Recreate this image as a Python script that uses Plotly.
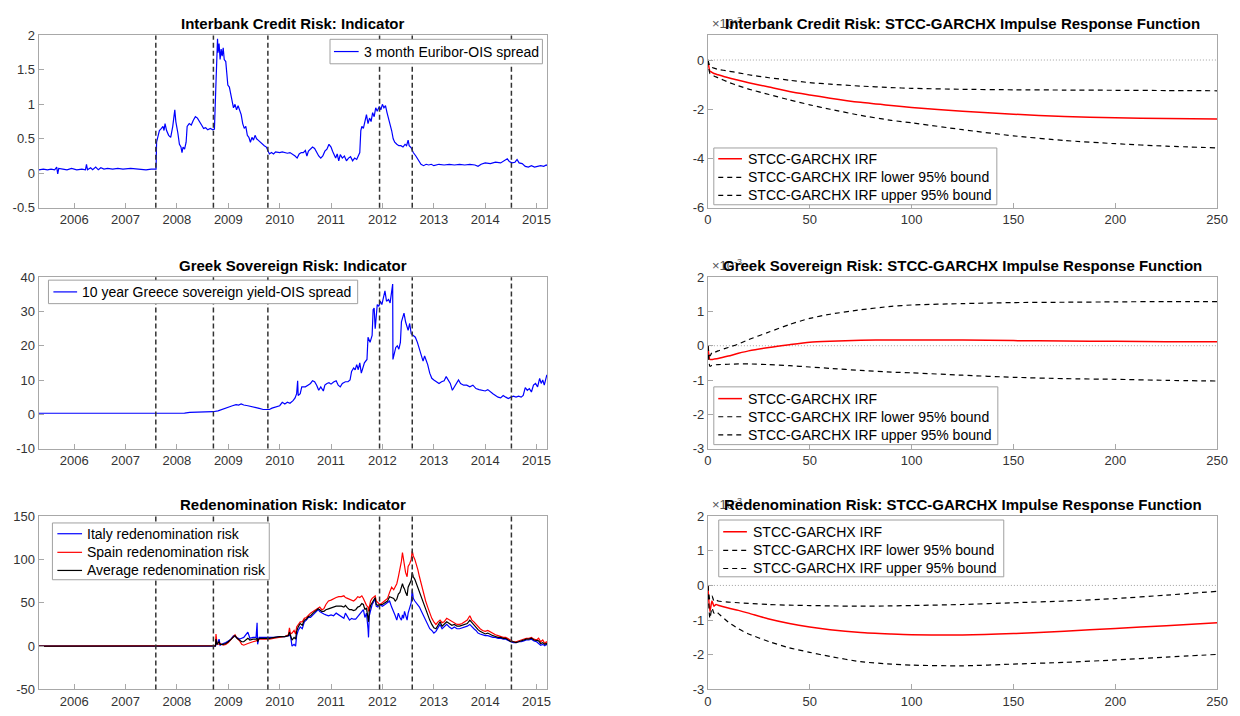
import plotly.graph_objects as go
from datetime import datetime

# ---------------- DATA ----------------
year_ticks = [2006, 2007, 2008, 2009, 2010, 2011, 2012, 2013, 2014, 2015]
event_dates = [2007.59, 2008.71, 2009.77, 2011.945, 2012.58, 2014.51]

eur_t = [2005.31, 2005.40, 2005.48, 2005.55, 2005.62, 2005.66, 2005.68, 2005.70, 2005.78, 2005.86,
         2005.95, 2006.05, 2006.15, 2006.22, 2006.24, 2006.26, 2006.32, 2006.36, 2006.42, 2006.47,
         2006.52, 2006.58, 2006.65, 2006.75, 2006.85, 2006.95, 2007.10, 2007.25, 2007.40, 2007.50,
         2007.595, 2007.605, 2007.63, 2007.66, 2007.70, 2007.73, 2007.75, 2007.77, 2007.80, 2007.84,
         2007.88, 2007.92, 2007.96, 2007.98, 2008.02, 2008.05, 2008.08, 2008.10, 2008.12, 2008.15,
         2008.18, 2008.20, 2008.24, 2008.28, 2008.32, 2008.36, 2008.40, 2008.44, 2008.48, 2008.52,
         2008.56, 2008.60, 2008.65, 2008.70, 2008.73, 2008.755, 2008.77, 2008.79, 2008.80, 2008.82,
         2008.84, 2008.86, 2008.88, 2008.90, 2008.92, 2008.95, 2008.97, 2008.99, 2009.02, 2009.05,
         2009.08, 2009.10, 2009.13, 2009.16, 2009.19, 2009.22, 2009.25, 2009.28, 2009.31, 2009.34,
         2009.37, 2009.40, 2009.43, 2009.46, 2009.49, 2009.52, 2009.55, 2009.58, 2009.62, 2009.66,
         2009.70, 2009.74, 2009.77, 2009.80, 2009.84, 2009.88, 2009.92, 2009.96, 2010.00, 2010.05,
         2010.10, 2010.15, 2010.20, 2010.25, 2010.30, 2010.34, 2010.38, 2010.42, 2010.46, 2010.50,
         2010.53, 2010.56, 2010.60, 2010.64, 2010.68, 2010.72, 2010.76, 2010.80, 2010.84, 2010.88,
         2010.92, 2010.96, 2011.00, 2011.03, 2011.06, 2011.09, 2011.12, 2011.15, 2011.18, 2011.22,
         2011.26, 2011.30, 2011.34, 2011.38, 2011.42, 2011.46, 2011.50, 2011.53, 2011.56, 2011.58,
         2011.60, 2011.63, 2011.66, 2011.69, 2011.72, 2011.75, 2011.78, 2011.81, 2011.84, 2011.87,
         2011.90, 2011.94, 2011.97, 2012.00, 2012.03, 2012.06, 2012.09, 2012.12, 2012.15, 2012.18,
         2012.21, 2012.24, 2012.28, 2012.32, 2012.36, 2012.40, 2012.44, 2012.47, 2012.50, 2012.52,
         2012.56, 2012.60, 2012.65, 2012.70, 2012.75, 2012.80, 2012.85, 2012.90, 2012.95, 2013.00,
         2013.10, 2013.20, 2013.30, 2013.40, 2013.50, 2013.60, 2013.70, 2013.80, 2013.86, 2013.92,
         2014.00, 2014.10, 2014.20, 2014.30, 2014.38, 2014.43, 2014.47, 2014.52, 2014.58, 2014.62,
         2014.66, 2014.72, 2014.78, 2014.84, 2014.90, 2014.96, 2015.02, 2015.08, 2015.14, 2015.19,
         2015.21]
eur_v = [0.05, 0.06, 0.05, 0.06, 0.05, 0.09, -0.01, 0.07, 0.06, 0.05,
         0.07, 0.05, 0.06, 0.05, 0.13, 0.05, 0.08, 0.05, 0.09, 0.05,
         0.08, 0.06, 0.07, 0.06, 0.07, 0.06, 0.07, 0.06, 0.05, 0.06,
         0.06, 0.45, 0.55, 0.62, 0.65, 0.68, 0.62, 0.72, 0.62, 0.55,
         0.52, 0.68, 0.92, 0.75, 0.58, 0.42, 0.38, 0.30, 0.38, 0.35,
         0.45, 0.68, 0.72, 0.70, 0.77, 0.82, 0.80, 0.74, 0.70, 0.65,
         0.66, 0.63, 0.65, 0.63, 0.64, 1.20, 1.60, 1.95, 1.75, 1.88,
         1.65, 1.80, 1.70, 1.82, 1.65, 1.62, 1.45, 1.28, 1.25, 1.15,
         1.05, 0.95, 1.00, 0.92, 0.98, 0.90, 0.85, 0.72, 0.65, 0.68,
         0.55, 0.52, 0.45, 0.52, 0.48, 0.55, 0.50, 0.48, 0.45, 0.43,
         0.40, 0.38, 0.32, 0.28, 0.30, 0.28, 0.31, 0.30, 0.30, 0.31,
         0.30, 0.29, 0.30, 0.28, 0.25, 0.22, 0.28, 0.30, 0.30, 0.33,
         0.25, 0.32, 0.35, 0.38, 0.36, 0.30, 0.25, 0.22, 0.25, 0.32,
         0.35, 0.42, 0.38, 0.32, 0.28, 0.22, 0.28, 0.18, 0.27, 0.22,
         0.25, 0.18, 0.22, 0.24, 0.18, 0.22, 0.20, 0.25, 0.30, 0.62,
         0.68, 0.65, 0.78, 0.85, 0.72, 0.80, 0.75, 0.88, 0.82, 0.95,
         0.90, 0.97, 0.92, 1.00, 0.95, 0.98, 0.88, 0.80, 0.72, 0.62,
         0.50, 0.45, 0.42, 0.40, 0.40, 0.38, 0.42, 0.40, 0.48, 0.40,
         0.37, 0.30, 0.25, 0.18, 0.13, 0.11, 0.13, 0.12, 0.13, 0.11,
         0.13, 0.12, 0.13, 0.12, 0.13, 0.12, 0.13, 0.12, 0.10, 0.13,
         0.15, 0.14, 0.16, 0.15, 0.18, 0.21, 0.17, 0.15, 0.16, 0.20,
         0.15, 0.14, 0.10, 0.09, 0.11, 0.09, 0.10, 0.11, 0.10, 0.12,
         0.11]

gr_t = [2005.31, 2005.60, 2006.00, 2006.50, 2007.00, 2007.50, 2007.80, 2008.00, 2008.15, 2008.25,
        2008.40, 2008.55, 2008.70, 2008.80, 2008.90, 2009.00, 2009.08, 2009.15, 2009.20, 2009.25,
        2009.30, 2009.38, 2009.45, 2009.52, 2009.60, 2009.68, 2009.75, 2009.80, 2009.85, 2009.90,
        2009.95, 2010.00, 2010.05, 2010.10, 2010.15, 2010.20, 2010.26, 2010.30, 2010.33, 2010.35,
        2010.36, 2010.40, 2010.43, 2010.50, 2010.55, 2010.60, 2010.64, 2010.68, 2010.72, 2010.76,
        2010.80, 2010.85, 2010.88, 2010.92, 2010.96, 2011.00, 2011.05, 2011.10, 2011.14, 2011.18,
        2011.22, 2011.28, 2011.33, 2011.37, 2011.40, 2011.44, 2011.47, 2011.50, 2011.53, 2011.56,
        2011.59, 2011.62, 2011.65, 2011.70, 2011.72, 2011.76, 2011.80, 2011.82, 2011.84, 2011.86,
        2011.88, 2011.90, 2011.93, 2011.96, 2011.99, 2012.02, 2012.05, 2012.08, 2012.12, 2012.15,
        2012.18, 2012.20, 2012.205, 2012.23, 2012.26, 2012.29, 2012.32, 2012.35, 2012.37, 2012.40,
        2012.42, 2012.45, 2012.48, 2012.50, 2012.53, 2012.56, 2012.60, 2012.64, 2012.68, 2012.72,
        2012.76, 2012.79, 2012.82, 2012.85, 2012.88, 2012.92, 2012.96, 2013.00, 2013.05, 2013.10,
        2013.15, 2013.20, 2013.24, 2013.28, 2013.32, 2013.36, 2013.40, 2013.44, 2013.48, 2013.52,
        2013.58, 2013.64, 2013.70, 2013.76, 2013.82, 2013.88, 2013.94, 2014.00, 2014.05, 2014.10,
        2014.15, 2014.20, 2014.25, 2014.30, 2014.35, 2014.40, 2014.45, 2014.50, 2014.55, 2014.60,
        2014.65, 2014.70, 2014.74, 2014.78, 2014.82, 2014.86, 2014.90, 2014.94, 2014.98, 2015.02,
        2015.06, 2015.09, 2015.12, 2015.15, 2015.18, 2015.20, 2015.21]
gr_v = [0.3, 0.3, 0.25, 0.3, 0.25, 0.2, 0.25, 0.3, 0.35, 0.55,
        0.6, 0.7, 0.75, 1.0, 1.6, 2.1, 2.5, 2.8, 2.7, 3.0,
        2.7, 2.5, 2.3, 2.1, 1.7, 1.4, 1.5, 1.4, 1.8, 2.0,
        2.4, 2.5, 3.5, 3.0, 3.5, 3.2, 4.0, 4.8, 6.0, 9.8,
        5.5, 6.0, 8.0, 8.0, 8.5, 9.0, 9.8, 9.5, 8.5, 7.0,
        8.0, 6.8, 8.5, 9.0, 9.2, 8.8, 9.4, 9.8, 8.5, 8.0,
        9.0, 9.5, 9.5, 10.0, 12.5, 13.5, 13.0, 14.5, 13.0, 15.0,
        12.0, 13.5, 15.0, 16.0, 22.5, 21.0, 23.0, 30.5, 31.0, 25.0,
        30.0, 32.0, 31.5, 33.0, 32.0, 34.5, 36.0, 33.0, 33.5, 32.5,
        35.5, 38.0, 16.0, 17.5, 19.5, 20.0, 19.0, 21.0, 27.0, 28.5,
        29.5, 27.0, 25.5, 24.5, 26.5, 23.5, 23.0, 22.5, 21.0, 19.0,
        17.0, 15.5, 17.0, 16.0, 14.5, 12.0, 10.5, 10.0, 9.5, 9.0,
        9.5, 9.8, 11.0, 10.0, 9.0, 7.0, 8.0, 9.0, 10.0, 9.0,
        8.5, 8.5, 8.0, 8.5, 7.5, 7.2, 7.0, 6.8, 7.2, 6.5,
        6.0, 5.5, 5.0, 4.8, 5.5, 5.0, 4.6, 5.0, 5.3, 5.0,
        5.3, 5.0, 5.5, 7.8, 7.0, 7.5, 6.5, 8.5, 9.0, 8.0,
        10.5, 9.0, 10.0, 8.5, 10.5, 11.5, 11.0]

ren_t = [2005.31, 2008.20, 2008.22, 2008.70, 2008.75, 2008.76, 2008.78, 2008.82, 2008.84, 2008.90,
         2008.95, 2009.00, 2009.05, 2009.10, 2009.13, 2009.17, 2009.22, 2009.26, 2009.30, 2009.38,
         2009.42, 2009.48, 2009.54, 2009.56, 2009.57, 2009.60, 2009.70, 2009.80, 2009.90, 2010.00,
         2010.10, 2010.17, 2010.19, 2010.21, 2010.24, 2010.28, 2010.31, 2010.33, 2010.36, 2010.40,
         2010.44, 2010.48, 2010.52, 2010.56, 2010.60, 2010.65, 2010.70, 2010.75, 2010.78, 2010.82,
         2010.86, 2010.90, 2010.95, 2011.00, 2011.05, 2011.10, 2011.15, 2011.20, 2011.25, 2011.28,
         2011.32, 2011.36, 2011.40, 2011.44, 2011.48, 2011.52, 2011.56, 2011.60, 2011.63, 2011.66,
         2011.69, 2011.72, 2011.73, 2011.745, 2011.77, 2011.80, 2011.84, 2011.86, 2011.88, 2011.91,
         2011.95, 2012.00, 2012.05, 2012.10, 2012.14, 2012.18, 2012.22, 2012.25, 2012.28, 2012.31,
         2012.34, 2012.37, 2012.39, 2012.41, 2012.43, 2012.45, 2012.48, 2012.50, 2012.53, 2012.56,
         2012.58, 2012.60, 2012.63, 2012.66, 2012.69, 2012.72, 2012.76, 2012.80, 2012.84, 2012.88,
         2012.92, 2012.96, 2013.00, 2013.04, 2013.08, 2013.12, 2013.16, 2013.20, 2013.25, 2013.30,
         2013.35, 2013.40, 2013.45, 2013.50, 2013.55, 2013.60, 2013.65, 2013.70, 2013.74, 2013.78,
         2013.82, 2013.86, 2013.90, 2013.95, 2014.00, 2014.05, 2014.10, 2014.15, 2014.20, 2014.25,
         2014.30, 2014.35, 2014.40, 2014.45, 2014.50, 2014.55, 2014.60, 2014.65, 2014.70, 2014.75,
         2014.80, 2014.85, 2014.90, 2014.95, 2015.00, 2015.04, 2015.08, 2015.12, 2015.16, 2015.19,
         2015.21]
italy_v = [0, 0, 0, 0, 0, 3, 2, 8, 1, 3,
           4, 6, 8, 12, 11, 9, 8, 9, 10, 16,
           9, 10, 10, 27, 2, 10, 10, 10, 10, 11,
           11, 12, 12, 12, 0, 2, 0, 12, 18, 22,
           20, 28, 30, 33, 33, 36, 38, 42, 40, 38,
           37, 36, 35, 36, 35, 38, 36, 34, 32, 38,
           33, 30, 32, 31, 31, 34, 36, 40, 42, 33,
           38, 20, 10, 35, 42, 48, 52, 55, 46, 45,
           48, 46, 48, 50, 52, 45, 40, 35, 30, 38,
           33, 30, 36, 32, 40, 35, 30, 38, 45, 50,
           65, 55, 52, 50, 48, 45, 40, 35, 30, 25,
           20, 18, 15, 17, 22, 25, 20, 22, 25, 22,
           20, 22, 20, 20, 21, 22, 23, 25, 22, 20,
           18, 15, 14, 13, 12, 12, 11, 10, 10, 9,
           9, 8, 8, 6, 5, 4, 4, 5, 5, 6,
           7, 7, 8, 6, 5, 3, 1, 2, 0.5, 2,
           1]
spain_v = [0, 0, 0.8, 0.5, 0.5, 14, 3, 2, 3, 1,
           2, 4, 7, 10, 13, 9, 6, 2, 1, 3,
           4, 5, 6, 7, 7, 8, 8, 8, 9, 10,
           11, 13, 21, 14, 15, 18, 14, 22, 25, 28,
           28, 32, 33, 36, 38, 40, 42, 44, 45, 42,
           43, 48, 52, 53, 55, 56, 57, 57, 58, 56,
           55, 54, 53, 52, 54, 57, 56, 58, 55, 50,
           47, 45, 40, 45, 52, 55, 57, 58, 52, 50,
           48, 50, 52, 55, 62, 68, 65, 68, 72, 80,
           88, 98, 108, 100, 90, 85, 80, 92, 95, 100,
           110, 104, 100, 95, 88, 80, 70, 60, 52, 45,
           38, 32, 28, 25, 28, 30, 27, 28, 32, 30,
           28, 27, 25, 25, 26, 28, 30, 35, 30, 28,
           25, 22, 20, 18, 17, 18, 16, 14, 13, 12,
           11, 10, 10, 8, 6, 5, 5, 6, 7, 8,
           9, 9, 10, 8, 7, 9, 5, 7, 3, 5,
           4]
avg_v = [0, 0, 0.4, 0.3, 0.3, 8, 2, 5, 2, 2,
         3, 5, 7.5, 11, 12, 9, 7, 5, 5, 9,
         7, 8, 8, 9, 5, 9, 9, 9, 10, 11,
         11, 12, 16, 13, 7, 10, 8, 17, 22, 26,
         24, 30, 31, 34, 35, 38, 40, 43, 42, 40,
         40, 42, 43, 44, 45, 46, 46, 46, 45, 47,
         44, 42, 42, 41, 42, 45, 46, 49, 48, 42,
         44, 32, 28, 40, 47, 50, 55, 56, 48, 47,
         48, 48, 50, 52, 57, 56, 55, 52, 54, 60,
         62, 68, 72, 68, 66, 62, 58, 68, 72, 76,
         85, 80, 77, 72, 68, 62, 55, 48, 42, 35,
         30, 25, 21, 20, 25, 28, 23, 25, 28, 26,
         24, 25, 23, 23, 24, 25, 26, 30, 27, 24,
         22, 19, 17, 15, 14, 15, 13, 12, 11, 10,
         10, 9, 9, 7, 5, 5, 4, 5, 6, 7,
         8, 8, 9, 7, 6, 6, 3, 4, 2, 3,
         2]

h_a = [0, 1, 2, 3, 5, 10, 15, 20, 30, 40, 50, 60, 75, 90, 100, 125, 150, 175, 200, 225, 250]
ib_irf = [0, -0.45, -0.5, -0.55, -0.6, -0.72, -0.82, -0.92, -1.1, -1.28, -1.42, -1.55, -1.72, -1.85,
          -1.93, -2.08, -2.2, -2.3, -2.35, -2.38, -2.4]
ib_lo = [0, -0.25, -0.3, -0.33, -0.38, -0.45, -0.52, -0.6, -0.72, -0.82, -0.92, -0.98, -1.06, -1.12,
         -1.15, -1.19, -1.21, -1.22, -1.23, -1.24, -1.25]
ib_up = [0, -0.55, -0.6, -0.65, -0.72, -0.9, -1.05, -1.18, -1.4, -1.62, -1.82, -2.0, -2.25, -2.45,
         -2.55, -2.83, -3.08, -3.27, -3.4, -3.5, -3.57]

gs_irf = [0, -0.4, -0.4, -0.39, -0.37, -0.3, -0.22, -0.15, -0.05, 0.03, 0.1, 0.13, 0.16, 0.17,
          0.17, 0.17, 0.15, 0.14, 0.13, 0.12, 0.12]
gs_lo = [0, -0.3, -0.2, -0.2, -0.15, -0.05, 0.05, 0.18, 0.4, 0.62, 0.8, 0.92, 1.05, 1.15,
         1.19, 1.23, 1.26, 1.27, 1.28, 1.29, 1.29]
gs_up = [0, -0.6, -0.57, -0.56, -0.55, -0.54, -0.53, -0.53, -0.55, -0.58, -0.62, -0.66, -0.72, -0.77,
         -0.79, -0.86, -0.92, -0.96, -0.98, -1.01, -1.03]

h_b = [0, 1, 2, 3, 4, 5, 10, 15, 20, 30, 40, 50, 60, 75, 90, 100, 125, 150, 175, 200, 225, 250]
rd_irf = [0, -0.75, -0.45, -0.6, -0.55, -0.57, -0.65, -0.72, -0.8, -0.97, -1.1, -1.2, -1.28, -1.36,
          -1.4, -1.42, -1.43, -1.39, -1.32, -1.24, -1.16, -1.08]
rd_lo = [0, -0.4, -0.3, -0.45, -0.42, -0.45, -0.48, -0.5, -0.52, -0.55, -0.57, -0.58, -0.59, -0.6,
         -0.59, -0.58, -0.55, -0.5, -0.45, -0.38, -0.28, -0.17]
rd_up = [0, -0.95, -0.65, -0.8, -0.75, -0.8, -1.06, -1.25, -1.4, -1.62, -1.8, -1.93, -2.05, -2.2,
         -2.27, -2.3, -2.32, -2.27, -2.22, -2.15, -2.07, -1.99]

yt_ib = [-0.5, 0, 0.5, 1, 1.5, 2]
yt_gr = [-10, 0, 10, 20, 30, 40]
yt_rd = [-50, 0, 50, 100, 150]
yt_irf_a = [-6, -4, -2, 0]
yt_irf_b = [-3, -2, -1, 0, 1, 2]
xt_irf = [0, 50, 100, 150, 200, 250]

titles = ["Interbank Credit Risk: Indicator",
          "Interbank Credit Risk: STCC-GARCHX Impulse Response Function",
          "Greek Sovereign Risk: Indicator",
          "Greek Sovereign Risk: STCC-GARCHX Impulse Response Function",
          "Redenomination Risk: Indicator",
          "Redenomination Risk: STCC-GARCHX Impulse Response Function"]
irf_names = ["STCC-GARCHX IRF", "STCC-GARCHX IRF lower 95% bound", "STCC-GARCHX IRF upper 95% bound"]


def dy(t):
    y = int(t)
    a = datetime(y, 1, 1)
    b = datetime(y + 1, 1, 1)
    return a + (b - a) * (t - y)


def lab(v):
    return "%g" % v


FONT = "Liberation Sans, Arial, sans-serif"
W, H = 1240, 716
AXC = "#a8a8a8"
TXT = "#333333"
BLUE, RED, BLACK = "#0000ff", "#ff0000", "#000000"
DASH = "5px,4px"

LX = (35, 550)
RX = (712.5, 1228)
ROWS = [(29, 205), (276, 451), (520, 697)]


def px(X):
    return X / W


def py(Y):
    return 1 - Y / H


def xdom(p):
    return [px(p[0]), px(p[1])]


def ydom(p):
    return [py(p[1]), py(p[0])]


fig = go.Figure()

styles = {}  # name -> (color, dash, width)


def add_line(x, y, name, color, width, xa, ya, dash=None, spline=False):
    ln = dict(color=color, width=width)
    if dash:
        ln["dash"] = dash
    if spline:
        ln["shape"] = "spline"
        ln["smoothing"] = 0.6
    fig.add_trace(go.Scatter(x=x, y=y, mode="lines", line=ln, name=name, xaxis=xa, yaxis=ya,
                             showlegend=False))


add_line([dy(t) for t in eur_t], eur_v, "3 month Euribor-OIS spread", BLUE, 1.2, "x", "y")
add_line([dy(t) for t in gr_t], gr_v, "10 year Greece sovereign yield-OIS spread", BLUE, 1.2, "x3", "y3")
ren_dates = [dy(t) for t in ren_t]
add_line(ren_dates, italy_v, "Italy redenomination risk", BLUE, 1.2, "x5", "y5")
add_line(ren_dates, spain_v, "Spain redenomination risk", RED, 1.2, "x5", "y5")
add_line(ren_dates, avg_v, "Average redenomination risk", BLACK, 1.2, "x5", "y5")

irf_sets = [(h_a, ib_irf, ib_lo, ib_up, "x2", "y2"),
            (h_a, gs_irf, gs_lo, gs_up, "x4", "y4"),
            (h_b, rd_irf, rd_lo, rd_up, "x6", "y6")]
for hh, irf, lo, up, xa, ya in irf_sets:
    add_line(hh, irf, irf_names[0], RED, 1.5, xa, ya, spline=True)
    add_line(hh, lo, irf_names[1], BLACK, 1.2, xa, ya, dash=DASH, spline=True)
    add_line(hh, up, irf_names[2], BLACK, 1.2, xa, ya, dash=DASH, spline=True)

base_ax = dict(showline=True, mirror=True, linecolor=AXC, linewidth=1, ticks="inside", ticklen=5,
               tickcolor=AXC, showgrid=False, zeroline=False, ticklabeloverflow="allow",
               tickfont=dict(family=FONT, size=13, color=TXT))

date_range = [dy(2005.307), dy(2015.21)]
yr_vals = [datetime(y, 1, 1) for y in year_ticks]
yr_text = [str(y) for y in year_ticks]

ranges_y = {1: ([-0.5, 2], yt_ib), 3: ([-10, 40], yt_gr), 5: ([-50, 150], yt_rd),
            2: ([-6, 1], yt_irf_a), 4: ([-3, 2], yt_irf_b), 6: ([-3, 2], yt_irf_b)}

layout = {}
for i in range(1, 7):
    row = (i - 1) // 2
    left = (i % 2 == 1)
    xk = "xaxis" if i == 1 else "xaxis%d" % i
    yk = "yaxis" if i == 1 else "yaxis%d" % i
    yid = "y" if i == 1 else "y%d" % i
    xid = "x" if i == 1 else "x%d" % i
    xa = dict(base_ax, domain=xdom(LX if left else RX), anchor=yid)
    if left:
        xa.update(type="date", range=date_range, tickvals=yr_vals, ticktext=yr_text)
    else:
        xa.update(range=[0, 250], tickvals=xt_irf, ticktext=[lab(v) for v in xt_irf])
    rng, tv = ranges_y[i]
    ya = dict(base_ax, domain=ydom(ROWS[row]), anchor=xid, range=rng, tickvals=tv,
              ticktext=[lab(v) for v in tv])
    layout[xk] = xa
    layout[yk] = ya
fig.update_layout(**layout)

shapes = []
ann = []
for xid, yid in [("x", "y"), ("x3", "y3"), ("x5", "y5")]:
    for d in event_dates:
        dd = dy(d)
        shapes.append(dict(type="line", xref=xid, yref=yid + " domain", x0=dd, x1=dd, y0=0, y1=1,
                           line=dict(color="#333333", width=1.5, dash="5px,3px"), layer="above"))
for xid, yid in [("x2", "y2"), ("x4", "y4"), ("x6", "y6")]:
    shapes.append(dict(type="line", xref=xid + " domain", yref=yid, x0=0, x1=1, y0=0, y1=0,
                       line=dict(color="#a0a0a0", width=1, dash="1px,2px"), layer="below"))

for i, t in enumerate(titles):
    row = i // 2
    left = (i % 2 == 0)
    xp = LX if left else RX
    if not left:
        ann.append(dict(text="×10<sup>-3</sup>", x=px(xp[0] + 2), y=py(ROWS[row][0] - 2),
                        xref="paper", yref="paper", xanchor="left", yanchor="bottom", showarrow=False,
                        font=dict(family=FONT, size=13, color="#555555")))
    ann.append(dict(text="<b>%s</b>" % t, x=px((xp[0] + xp[1]) / 2), y=py(ROWS[row][0]),
                    xref="paper", yref="paper", xanchor="center", yanchor="bottom", yshift=1,
                    showarrow=False, font=dict(family=FONT, size=15, color="#000000")))


# boxed legends (MATLAB style): box, row centres, sample line span, text start
def add_legend(box, rows, sample, text_x, entries):
    shapes.append(dict(type="rect", xref="paper", yref="paper",
                       x0=px(box[0]), x1=px(box[2]), y0=py(box[3]), y1=py(box[1]),
                       fillcolor="white", line=dict(color="#a0a0a0", width=1), layer="above"))
    for yy, (name, color, dash, width) in zip(rows, entries):
        ln = dict(color=color, width=width)
        if dash:
            ln["dash"] = dash
        shapes.append(dict(type="line", xref="paper", yref="paper", x0=px(sample[0]), x1=px(sample[1]),
                           y0=py(yy), y1=py(yy), line=ln, layer="above"))
        ann.append(dict(text=name, x=px(text_x), y=py(yy), xref="paper", yref="paper",
                        xanchor="left", yanchor="middle", showarrow=False,
                        font=dict(family=FONT, size=14, color="#000000")))


irf_entries = [(irf_names[0], RED, None, 1.5), (irf_names[1], BLACK, DASH, 1.2),
               (irf_names[2], BLACK, DASH, 1.2)]
add_legend((330, 33, 545, 58), [45.5], (334, 359), 362,
           [("3 month Euribor-OIS spread", BLUE, None, 1.2)])
add_legend((45, 279, 358, 303), [291], (50, 74), 77,
           [("10 year Greece sovereign yield-OIS spread", BLUE, None, 1.2)])
add_legend((49, 527, 268.5, 585), [538, 557, 575.5], (54, 79), 82,
           [("Italy redenomination risk", BLUE, None, 1.2), ("Spain redenomination risk", RED, None, 1.2),
            ("Average redenomination risk", BLACK, None, 1.2)])
add_legend((718.5, 144, 1005, 202), [155, 174, 192.5], (723, 747), 751, irf_entries)
add_legend((718.5, 388, 1006, 447), [400, 418.5, 437], (723, 747), 751, irf_entries)
add_legend((723.5, 524, 1012, 582), [536, 555, 573.5], (728, 752), 756, irf_entries)

fig.update_layout(shapes=shapes, annotations=ann, showlegend=False)
fig.update_layout(width=W, height=H, margin=dict(l=0, r=0, t=0, b=0), plot_bgcolor="white",
                  paper_bgcolor="white", font=dict(family=FONT, color=TXT))

page_fix = (
    "var gd=document.getElementById('{plot_id}');"
    "var de=document.documentElement, bd=document.body;"
    "de.style.margin='0';de.style.padding='0';de.style.overflow='hidden';"
    "bd.style.margin='0';bd.style.padding='0';bd.style.overflow='hidden';"
    "gd.style.position='fixed';gd.style.left='0px';gd.style.top='0px';"
)
fig.write_html("out.html", config={"displayModeBar": False}, post_script=page_fix)
